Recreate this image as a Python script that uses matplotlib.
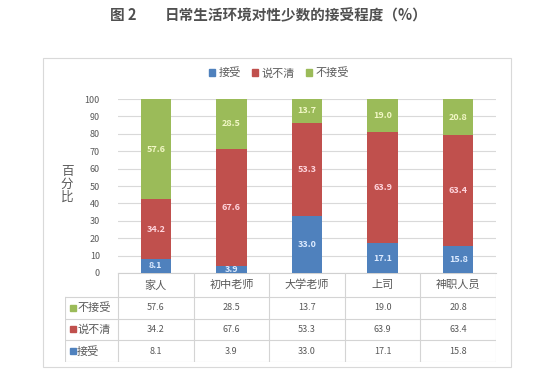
import matplotlib
matplotlib.use("Agg")
import matplotlib.pyplot as plt
from matplotlib.patches import Rectangle

plt.rcParams['font.family'] = ['Noto Sans CJK SC', 'DejaVu Sans']

categories = ['家人', '初中老师', '大学老师', '上司', '神职人员']
accept = [8.1, 3.9, 33.0, 17.1, 15.8]
unclear = [34.2, 67.6, 53.3, 63.9, 63.4]
reject = [57.6, 28.5, 13.7, 19.0, 20.8]
series_names = ['接受', '说不清', '不接受']
colors = ['#4F81BD', '#C0504D', '#9BBB59']
label_colors = ['#DDEBFF', '#FFD6DE', '#F2F7C6']
yticks = list(range(0, 101, 10))
title_num = '图 2'
title_text = '日常生活环境对性少数的接受程度（%）'

W, H = 537, 382
fig = plt.figure(figsize=(W / 100, H / 100), dpi=100)
fig.patch.set_facecolor('white')

def fx(px):
    return px / W

def fy(py):
    return 1 - py / H

# outer frame
fig.add_artist(Rectangle((fx(43), fy(367)), fx(511) - fx(43), fy(58) - fy(367),
                         transform=fig.transFigure, fill=False,
                         edgecolor='#D9D9D9', linewidth=0.8))

fig.text(fx(110), fy(15), title_num, ha='left', va='center', fontsize=10.5,
         color='#505050', fontweight='bold')
fig.text(fx(165), fy(15), title_text, ha='left', va='center', fontsize=10.5,
         color='#505050', fontweight='bold')

# main axes
ax_l, ax_r, ax_t, ax_b = 118, 496, 99, 273
ax = fig.add_axes([fx(ax_l), fy(ax_b), fx(ax_r) - fx(ax_l), fy(ax_t) - fy(ax_b)])
x = list(range(len(categories)))
width = 0.4
bottoms = [0] * len(categories)
series = [accept, unclear, reject]
for vals, c, lc, name in zip(series, colors, label_colors, series_names):
    ax.bar(x, vals, width, bottom=bottoms, color=c, label=name, zorder=3)
    for xi, b, v in zip(x, bottoms, vals):
        ax.text(xi, b + v / 2, f'{v:.1f}', ha='center', va='center',
                fontsize=6.5, color=lc, fontweight='bold', zorder=4)
    bottoms = [b + v for b, v in zip(bottoms, vals)]

ax.set_xlim(-0.5, len(categories) - 0.5)
ax.set_ylim(0, 100)
ax.set_yticks(yticks)
ax.set_yticklabels([str(t) for t in yticks], fontsize=6.5, color='#595959')
ax.set_xticks([])
ax.tick_params(axis='y', length=0, pad=13)
ax.grid(axis='y', color='#D9D9D9', linewidth=0.8, zorder=0)
for s in ['top', 'right', 'left']:
    ax.spines[s].set_visible(False)
ax.spines['bottom'].set_color('#D0D0D0')
ax.spines['bottom'].set_linewidth(0.8)

fig.text(fx(67), fy(184), '百\n分\n比', ha='center', va='center', fontsize=9,
         color='#595959', linespacing=1.0)

# legend
handles = [Rectangle((0, 0), 1, 1, color=c) for c in colors]
fig.legend(handles, series_names, loc='center', bbox_to_anchor=(fx(279), fy(73)),
           ncol=3, frameon=False, fontsize=8, handlelength=0.55, handleheight=0.55,
           handletextpad=0.3, columnspacing=1.0, labelcolor='#595959')

# data table
tb_l, tb_r, tb_t, tb_b = 65, 496, 273, 362
unit = (ax_r - ax_l) / len(categories)
tx0 = -0.5 - (ax_l - tb_l) / unit
tax = fig.add_axes([fx(tb_l), fy(tb_b), fx(tb_r) - fx(tb_l), fy(tb_t) - fy(tb_b)])
tax.set_xlim(tx0, len(categories) - 0.5)
row_edges = [0, 24, 45.5, 67.3, 89]
tax.set_ylim(row_edges[-1], 0)
tax.axis('off')
gc = '#D4D4D4'
for i in range(len(categories) + 1):
    tax.plot([i - 0.5, i - 0.5], [row_edges[0], row_edges[-1]], color=gc, lw=0.8)
tax.plot([tx0, tx0], [row_edges[1], row_edges[-1]], color=gc, lw=0.8)
for yv in row_edges[1:]:
    tax.plot([tx0, len(categories) - 0.5], [yv, yv], color=gc, lw=0.8)

for xi, cat in zip(x, categories):
    tax.text(xi, (row_edges[0] + row_edges[1]) / 2, cat, ha='center', va='center',
             fontsize=8, color='#595959')

table_rows = [(series_names[2], reject, colors[2]),
              (series_names[1], unclear, colors[1]),
              (series_names[0], accept, colors[0])]
for r, (name, vals, c) in enumerate(table_rows):
    yc = (row_edges[r + 1] + row_edges[r + 2]) / 2
    tax.plot([tx0 + 0.1], [yc], marker='s', markersize=4, color=c, linestyle='none')
    tax.text(tx0 + 0.16, yc, name, ha='left', va='center', fontsize=8, color='#595959')
    for xi, v in zip(x, vals):
        tax.text(xi, yc, f'{v:.1f}', ha='center', va='center', fontsize=6.5,
                 color='#595959')

fig.savefig('out.png', dpi=100, facecolor='white')
